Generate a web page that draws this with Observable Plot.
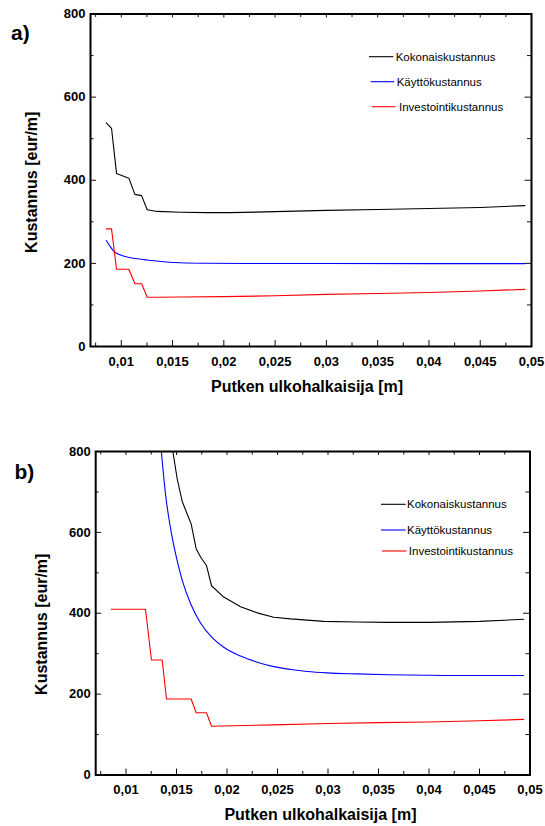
<!DOCTYPE html>
<html>
<head>
<meta charset="utf-8">
<script src="https://cdn.jsdelivr.net/npm/d3@7"></script>
<script src="https://cdn.jsdelivr.net/npm/@observablehq/plot@0.6"></script>
<style>
  body { margin: 0; background: #fff; }
  #page { position: relative; width: 545px; height: 826px; overflow: hidden; background: #fff; }
  #page svg { position: absolute; left: 0; }
</style>
</head>
<body>
<div id="page"></div>
<script>
// ---------- shared labels / ticks ----------
const seriesNames = ["Kokonaiskustannus", "Käyttökustannus", "Investointikustannus"];
const xLabel = "Putken ulkohalkaisija [m]";
const yLabel = "Kustannus [eur/m]";
const panelLabels = ["a)", "b)"];
const xDomain = [0.007, 0.05];
const yDomain = [0, 800];
const xMajorTicks = [0.01, 0.015, 0.02, 0.025, 0.03, 0.035, 0.04, 0.045, 0.05];
const xMinorTicks = [0.0075, 0.0125, 0.0175, 0.0225, 0.0275, 0.0325, 0.0375, 0.0425, 0.0475];
const yMajorTicks = [0, 200, 400, 600, 800];
const yMinorTicks = [100, 300, 500, 700];

// ---------- panel a data ----------
const aTotalX = [0.00854, 0.00905, 0.00954, 0.01074, 0.01133, 0.01198, 0.01253, 0.01351, 0.01578, 0.01838, 0.02065, 0.025, 0.03, 0.035, 0.04, 0.045, 0.04936];
const aTotalY = [538, 525, 416, 405, 366, 363, 329, 325, 323, 322, 322, 324.5, 327.5, 329.5, 332, 334.5, 339];
const aOperX  = [0.00854, 0.00896, 0.00928, 0.00993, 0.01091, 0.01198, 0.01253, 0.01415, 0.01578, 0.01838, 0.022, 0.03, 0.04, 0.04936];
const aOperY  = [255, 239, 229, 220, 213.5, 210, 208, 204, 201.5, 200.3, 199.8, 199.6, 199.5, 199.5];
const aInvX   = [0.00854, 0.00905, 0.00954, 0.01074, 0.01133, 0.01198, 0.01253, 0.0135, 0.0158, 0.02, 0.025, 0.03, 0.035, 0.04, 0.045, 0.04936];
const aInvY   = [283, 283, 186, 186, 151, 151, 118.5, 118.5, 119, 120, 122, 125.5, 127.5, 130, 133.5, 137.5];

// ---------- panel b data ----------
const bTotalX = [0.01464, 0.01507, 0.01556, 0.01606, 0.01645, 0.01695, 0.01746, 0.01797, 0.01847, 0.01968, 0.02134, 0.02299, 0.02463, 0.02629, 0.02958, 0.03289, 0.036, 0.04, 0.045, 0.04937];
const bTotalY = [800, 732, 677, 645, 621, 559, 536, 518, 468, 440, 416, 401, 390, 386, 380, 378.5, 377.5, 377.5, 380, 385];
const bOperX  = [0.0135, 0.01391, 0.01441, 0.0149, 0.01556, 0.01639, 0.01738, 0.01837, 0.01968, 0.02134, 0.02299, 0.02463, 0.02629, 0.02794, 0.02992, 0.03289, 0.036, 0.04, 0.045, 0.04937];
const bOperY  = [800, 695, 610, 548, 482, 424, 376, 344, 316, 294, 279, 268, 261, 256, 252.5, 250, 248, 246.5, 246, 246];
const bInvX   = [0.00853, 0.01193, 0.01252, 0.01358, 0.01401, 0.01645, 0.01695, 0.01797, 0.01847, 0.02463, 0.03, 0.035, 0.04, 0.045, 0.04937];
const bInvY   = [410, 410, 284.5, 284.5, 188, 188, 154, 154, 120.5, 124, 127.5, 129.5, 131, 134, 137.5];

// ---------- styling ----------
const FONT = "'Liberation Sans', Arial, Helvetica, sans-serif";
const seriesColors = ["#000000", "#0000ff", "#ff0000"];
const seriesCurves = ["linear", "monotone-x", "linear"];
const fmtX = d => String(+d.toFixed(4)).replace(".", ",");
const toRows = (xs, ys) => xs.map((x, i) => ({x, y: ys[i]}));

function panel(cfg) {
  const W = 545;
  const innerW = W - cfg.ml - cfg.mr;
  const innerH = cfg.h - cfg.mt - cfg.mb;
  const tickStroke = {stroke: "#111", strokeWidth: 1};
  const lines = cfg.series.map((s, i) =>
    Plot.line(toRows(s[0], s[1]), {x: "x", y: "y", stroke: seriesColors[i], strokeWidth: 1.1, curve: seriesCurves[i]})
  );
  const svg = Plot.plot({
    width: W,
    height: cfg.h,
    marginLeft: cfg.ml,
    marginRight: cfg.mr,
    marginTop: cfg.mt,
    marginBottom: cfg.mb,
    style: {fontFamily: FONT, background: "transparent", overflow: "visible", color: "#000"},
    x: {domain: xDomain, label: null},
    y: {domain: yDomain, label: null},
    marks: [
      ...lines,
      // inward ticks: bottom, top, left, right
      Plot.ruleX(xMajorTicks, {x: d => d, insetTop: innerH - 6, ...tickStroke}),
      Plot.ruleX(xMinorTicks, {x: d => d, insetTop: innerH - 3.5, ...tickStroke}),
      Plot.ruleX(xMajorTicks, {x: d => d, insetBottom: innerH - 4, ...tickStroke}),
      Plot.ruleX(xMinorTicks, {x: d => d, insetBottom: innerH - 3.5, ...tickStroke}),
      Plot.ruleY(yMajorTicks, {y: d => d, insetRight: innerW - 6, ...tickStroke}),
      Plot.ruleY(yMinorTicks, {y: d => d, insetRight: innerW - 3.5, ...tickStroke}),
      Plot.ruleY(yMajorTicks, {y: d => d, insetLeft: innerW - 6.5, ...tickStroke}),
      Plot.ruleY(yMinorTicks, {y: d => d, insetLeft: innerW - 4, ...tickStroke}),
      Plot.frame({stroke: "#000", strokeWidth: 2}),
      Plot.axisX({ticks: xMajorTicks, tickSize: 0, tickPadding: 10, tickFormat: fmtX,
                  fontSize: 13, fontWeight: "bold", label: null}),
      Plot.axisY({ticks: yMajorTicks, tickSize: 0, tickPadding: 5, tickFormat: d => String(d),
                  fontSize: 13, fontWeight: "bold", label: null}),
      Plot.text([xLabel], {text: d => d, frameAnchor: "bottom", dx: cfg.xtDx, dy: cfg.xtDy,
                  lineAnchor: "middle", textAnchor: "middle", fontSize: 16, fontWeight: "bold"}),
      Plot.text([yLabel], {text: d => d, frameAnchor: "left", dx: cfg.ytDx, dy: cfg.ytDy, rotate: -90,
                  lineAnchor: "middle", textAnchor: "middle", fontSize: 16, fontWeight: "bold"}),
      Plot.text([cfg.tag], {text: d => d, frameAnchor: "top-left", dx: cfg.tagDx, dy: cfg.tagDy,
                  lineAnchor: "middle", textAnchor: "start", fontSize: 21, fontWeight: "bold"})
    ]
  });
  // legend (layout only)
  const g = d3.select(svg).append("g")
    .attr("font-family", FONT).attr("font-size", 11.5).attr("text-anchor", "start");
  seriesNames.forEach((name, i) => {
    const L = cfg.legend[i];
    g.append("line").attr("x1", L[0]).attr("x2", L[1]).attr("y1", L[2]).attr("y2", L[2])
      .attr("stroke", seriesColors[i]).attr("stroke-width", 1.1);
    g.append("text").attr("x", L[3]).attr("y", L[2]).attr("dy", "0.36em")
      .attr("text-anchor", "start").attr("fill", "#000").text(name);
  });
  svg.style.top = cfg.top + "px";
  return svg;
}

const page = document.getElementById("page");
page.appendChild(panel({
  top: 0, h: 400, ml: 90, mr: 14, mt: 13.5, mb: 54,
  series: [[aTotalX, aTotalY], [aOperX, aOperY], [aInvX, aInvY]],
  xtDx: -4, xtDy: 40.5, ytDx: -58.4, ytDy: 2, tag: panelLabels[0], tagDx: -79.5, tagDy: 19,
  legend: [[369, 393.3, 56.7, 395.7], [370.7, 394.3, 81.7, 396.7], [371.7, 395.3, 106.7, 399]]
}));
page.appendChild(panel({
  top: 420, h: 406, ml: 95.2, mr: 15.5, mt: 31, mb: 51.5,
  series: [[bTotalX, bTotalY], [bOperX, bOperY], [bInvX, bInvY]],
  xtDx: 7.6, xtDy: 39.5, ytDx: -53.5, ytDy: 11, tag: panelLabels[1], tagDx: -81.2, tagDy: 20.5,
  legend: [[381, 405.7, 84.3, 407], [381, 405.7, 110, 407], [382, 406.4, 131, 408.8]]
}));
</script>
</body>
</html>
